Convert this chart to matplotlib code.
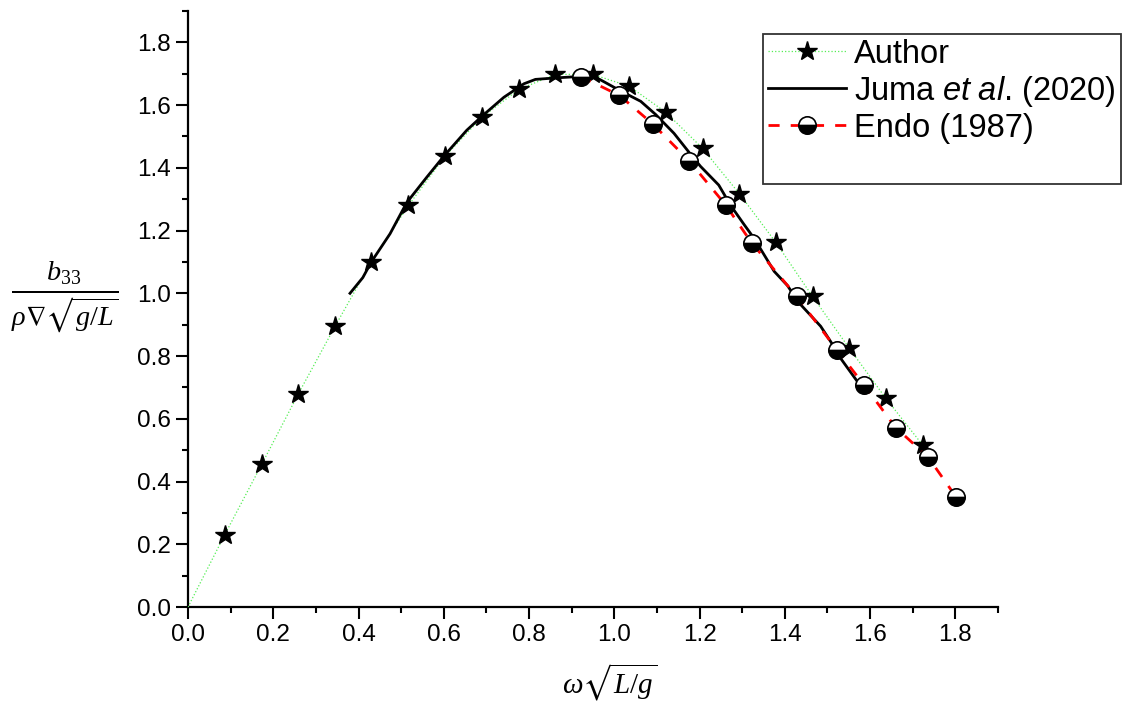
import matplotlib
matplotlib.use("Agg")
import matplotlib.pyplot as plt
from matplotlib.lines import Line2D
from matplotlib.ticker import MultipleLocator

plt.rcParams['font.family'] = ['Liberation Sans', 'DejaVu Sans']
plt.rcParams['mathtext.fontset'] = 'custom'
plt.rcParams['mathtext.rm'] = 'Liberation Serif'
plt.rcParams['mathtext.it'] = 'Liberation Serif:italic'
plt.rcParams['mathtext.sf'] = 'Liberation Sans:italic'
plt.rcParams['mathtext.fallback'] = 'stix'

# Author (stars)
author_x = [0.0, 0.086, 0.173, 0.259, 0.345, 0.430, 0.517, 0.603, 0.690, 0.776, 0.862,
            0.949, 1.035, 1.121, 1.207, 1.293, 1.379, 1.465, 1.551, 1.637, 1.724]
author_y = [0.0, 0.23, 0.455, 0.68, 0.895, 1.10, 1.28, 1.437, 1.562, 1.65, 1.698,
            1.698, 1.66, 1.577, 1.462, 1.318, 1.162, 0.99, 0.825, 0.665, 0.515]

# Juma et al. (2020)
juma_x = [0.38, 0.41, 0.43, 0.474, 0.513, 0.56, 0.60, 0.654, 0.69, 0.741, 0.788, 0.815,
          0.866, 0.928, 0.952, 0.975, 1.015, 1.062, 1.097, 1.14, 1.175, 1.202, 1.245,
          1.273, 1.304, 1.328, 1.375, 1.406, 1.433, 1.484, 1.508, 1.527, 1.57]
juma_y = [1.00, 1.05, 1.10, 1.19, 1.289, 1.37, 1.437, 1.52, 1.565, 1.625, 1.668, 1.682,
          1.687, 1.692, 1.692, 1.675, 1.645, 1.612, 1.57, 1.51, 1.45, 1.405, 1.345,
          1.28, 1.22, 1.175, 1.07, 1.025, 0.97, 0.895, 0.845, 0.80, 0.719]

# Endo (1987)
endo_x = [0.921, 1.012, 1.09, 1.175, 1.261, 1.322, 1.428, 1.523, 1.585, 1.660, 1.736, 1.801]
endo_y = [1.691, 1.631, 1.540, 1.423, 1.282, 1.161, 0.990, 0.818, 0.709, 0.572, 0.478, 0.352]

x_ticks = [0.0, 0.2, 0.4, 0.6, 0.8, 1.0, 1.2, 1.4, 1.6, 1.8]
y_ticks = [0.0, 0.2, 0.4, 0.6, 0.8, 1.0, 1.2, 1.4, 1.6, 1.8]

fig = plt.figure(figsize=(11.23, 7.15), dpi=100)
ax = fig.add_axes([188/1123, 1-607/715, (998-188)/1123, (607-11)/715])

ax.plot(author_x, author_y, linestyle=':', color='#55ee55', linewidth=0.9,
        marker='*', markersize=15, markerfacecolor='black', markeredgecolor='black',
        markevery=list(range(1, len(author_x))), label='Author', zorder=3)
ax.plot(juma_x, juma_y, '-', color='black', linewidth=2.0,
        label=r'Juma $\mathsf{et\ al}$. (2020)', zorder=4)
ax.plot(endo_x, endo_y, linestyle=(0, (4, 4)), color='red', linewidth=2.0,
        marker='o', markersize=12.5, fillstyle='bottom', markerfacecolor='black',
        markerfacecoloralt='white', markeredgecolor='black', markeredgewidth=1.2,
        label='Endo (1987)', zorder=5)

ax.set_xlim(0, 1.9)
ax.set_ylim(0, 1.9)
ax.set_xticks(x_ticks)
ax.set_yticks(y_ticks)
ax.set_xticklabels([f"{v:.1f}" for v in x_ticks])
ax.set_yticklabels([f"{v:.1f}" for v in y_ticks])
ax.xaxis.set_minor_locator(MultipleLocator(0.1))
ax.yaxis.set_minor_locator(MultipleLocator(0.1))
ax.tick_params(which='major', direction='out', length=8.5, width=1.5, labelsize=17.5, pad=4)
ax.tick_params(which='minor', direction='out', length=4.5, width=1.5)
for s in ['top', 'right']:
    ax.spines[s].set_visible(False)
for s in ['left', 'bottom']:
    ax.spines[s].set_linewidth(1.6)

fig.text(65/1123, 1-297/715, r'$\frac{b_{33}}{\rho\nabla\sqrt{g/L}}$', fontsize=29,
         ha='center', va='center')
fig.text(610/1123, 1-682/715, r'$\omega\sqrt{L/g}$', fontsize=21, ha='center', va='center')

handles, labels = ax.get_legend_handles_labels()
handles.append(Line2D([], [], color='none'))
labels.append(' ')
leg = ax.legend(handles, labels, loc='upper left', bbox_to_anchor=(763/1123, 1-34/715),
                bbox_transform=fig.transFigure, borderaxespad=0, fontsize=23.5,
                fancybox=False, framealpha=1, edgecolor='#333333', handlelength=2.4,
                handletextpad=0.25, labelspacing=0.12, borderpad=0.15)
leg.get_frame().set_linewidth(1.3)

fig.savefig('out.png', dpi=100)
